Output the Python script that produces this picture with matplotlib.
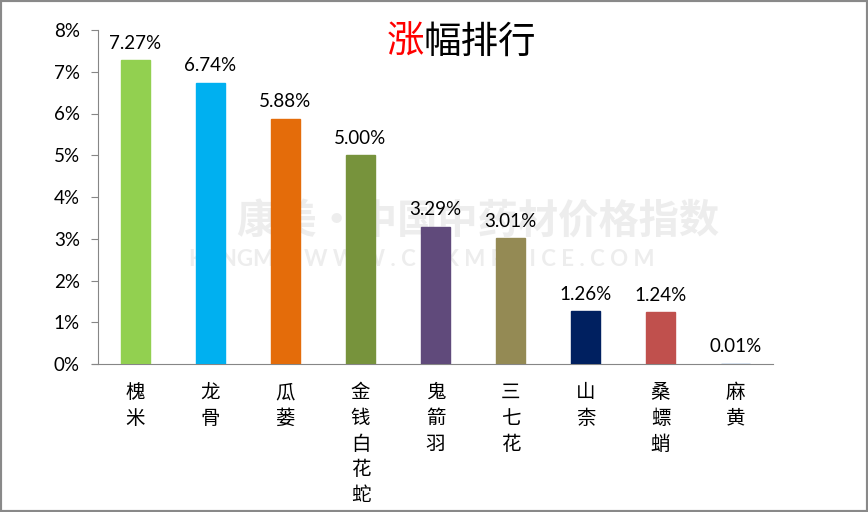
import matplotlib
matplotlib.use("Agg")
import matplotlib.pyplot as plt
from matplotlib.patches import Rectangle

categories = ["槐米", "龙骨", "瓜蒌", "金钱白花蛇", "鬼箭羽", "三七花", "山柰", "桑螵蛸", "麻黄"]
values = [7.27, 6.74, 5.88, 5.00, 3.29, 3.01, 1.26, 1.24, 0.01]
colors = ["#92D050", "#00B0F0", "#E46C0A", "#77933C", "#604A7B", "#948A54", "#002060", "#C0504D", "#4F81BD"]
yticks = [0, 1, 2, 3, 4, 5, 6, 7, 8]

plt.rcParams['font.family'] = ['Lato', 'Noto Sans CJK SC', 'DejaVu Sans']

fig = plt.figure(figsize=(8.68, 5.12), dpi=100)
fig.patches.append(Rectangle((0, 0), 1, 1, transform=fig.transFigure, fill=False,
                             edgecolor="#898989", linewidth=3, zorder=10))
ax = fig.add_axes([98/868, 1-364/512, 675/868, 334/512])

# faint watermark behind bars
ax.text((478-98)/675, (364-222)/334, "康美·中国中药材价格指数", fontsize=29, fontweight='bold',
        color="#ededed", ha='center', va='center', family=['Noto Sans CJK SC'],
        transform=ax.transAxes, zorder=0)
ax.text((422-98)/675, (364-259)/334, "KANGMEI  W W W . C N K M P R I C E . C O M", fontsize=16,
        fontweight='bold', color="#ededed", ha='center', va='center',
        transform=ax.transAxes, zorder=0)

x = list(range(len(categories)))
ax.bar(x, values, width=0.39, color=colors, edgecolor=colors, linewidth=1.0, zorder=2)
for xi, v in zip(x, values):
    ax.text(xi, v + 0.2, f"{v:.2f}%", ha='center', va='bottom', fontsize=13.5, color='black', zorder=3)

ax.set_xlim(-0.5, len(categories) - 0.5)
ax.set_ylim(0, 8)
ax.set_yticks(yticks)
ax.set_yticklabels([f"{t}%" for t in yticks], fontsize=13.5)
ax.set_xticks(x)
ax.set_xticklabels(["\n".join(c) for c in categories], fontsize=14,
                   family=['Noto Sans CJK SC'], linespacing=1.3, va='top')
ax.tick_params(axis='x', length=0, pad=13)
ax.tick_params(axis='y', length=5, color="#868686", pad=8, direction='out')
for s in ['top', 'right']:
    ax.spines[s].set_visible(False)
for s in ['left', 'bottom']:
    ax.spines[s].set_color("#868686")
ax.spines['bottom'].set_bounds(-0.5 - 0.08, len(categories) - 0.5)
ax.spines['bottom'].set_zorder(1)

fig.text(424/868, 1-42/512, "涨", color="#FF0000", fontsize=27, ha='right', va='center',
         family=['Noto Sans CJK SC'])
fig.text(424/868, 1-42/512, "幅排行", color="black", fontsize=27, ha='left', va='center',
         family=['Noto Sans CJK SC'])

fig.savefig("out.png", dpi=100)
